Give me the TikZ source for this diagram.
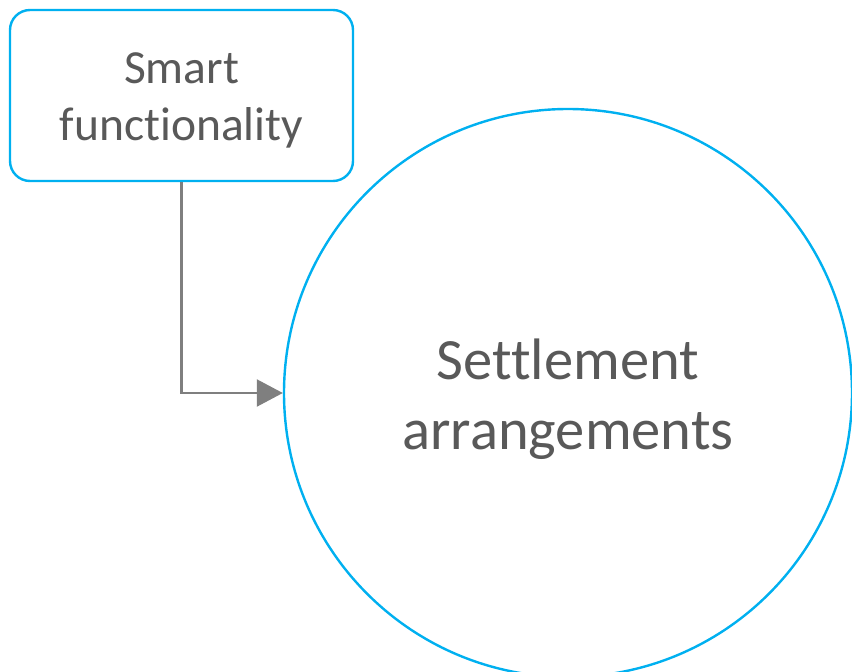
\documentclass[tikz,border=0pt]{standalone}
\usepackage{fontspec}
\setmainfont[Ligatures=NoCommon]{Carlito}
\usetikzlibrary{arrows.meta}
\definecolor{boxblue}{HTML}{00B0F0}
\definecolor{textgray}{HTML}{595959}
\definecolor{linegray}{HTML}{7F7F7F}
\begin{document}
\begin{tikzpicture}[x=1pt,y=-1pt,
  box/.style={draw=boxblue,line width=2.4pt,rounded corners=20pt,minimum width=343pt,minimum height=171pt},
  disc/.style={draw=boxblue,line width=2.4pt,circle,minimum size=568pt},
  boxtext/.style={text=textgray,align=center,font=\fontsize{47.5}{57}\selectfont},
  disctext/.style={text=textgray,align=center,font=\fontsize{58.5}{70}\selectfont},
  flow/.style={draw=linegray,line width=2.2pt,-{Triangle[length=26pt,width=27pt]}}]
  \useasboundingbox (0,0) rectangle (852,672);
  \node[box] (smart) at (181.5,95.5) {};
  \node[boxtext] (smartlbl) at ([yshift=-5pt]smart.center) {Smart\\functionality};
  \node[disc] (settle) at (568,393) {};
  \node[disctext] (settlelbl) at ([yshift=-6pt]settle.center) {Settlement\\arrangements};
  \draw[flow] (smart.south) |- (settle.west);
\end{tikzpicture}
\end{document}
